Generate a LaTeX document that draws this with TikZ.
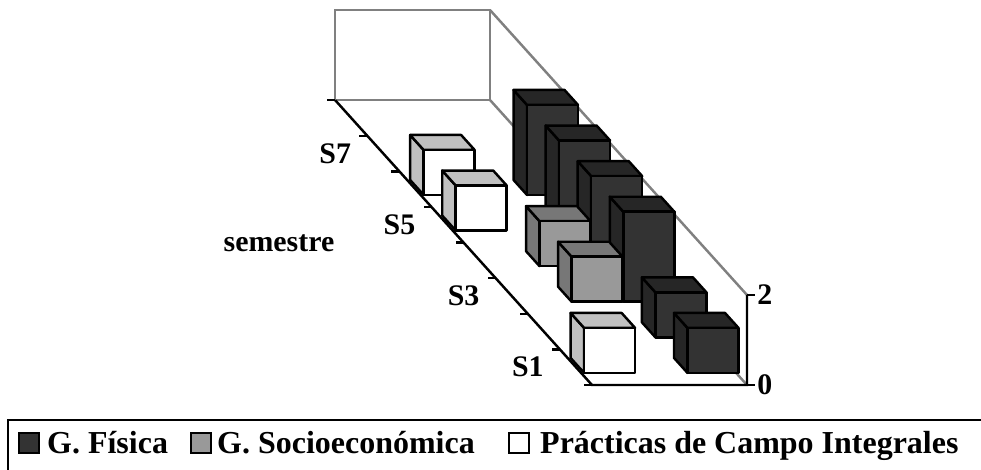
\documentclass[tikz,border=0pt]{standalone}
\usepackage{fontspec}
\setmainfont{Liberation Serif}
\usetikzlibrary{positioning}
\definecolor{fisicaF}{HTML}{333333}
\definecolor{fisicaL}{HTML}{262626}
\definecolor{socioF}{HTML}{999999}
\definecolor{socioL}{HTML}{777777}
\definecolor{practF}{HTML}{FFFFFF}
\definecolor{practL}{HTML}{C0C0C0}
\definecolor{muro}{HTML}{808080}
% #1 serie, #2 semestre, #3 valor, #4 frente, #5 lado
\newcommand\columna[5]{%
    \filldraw[caja, fill=#5] (#1*51.7+3, 0, #2+0.34) -- ++(0, 0, 0.42) -- ++(0, #3*45, 0) -- ++(0, 0, -0.42) -- cycle;
    \filldraw[caja, fill=#5] (#1*51.7+3, #3*45, #2+0.34) -- ++(51, 0, 0) -- ++(0, 0, 0.42) -- ++(-51, 0, 0) -- cycle;
    \filldraw[caja, fill=#4] (#1*51.7+3, 0, #2+0.34) -- ++(51, 0, 0) -- ++(0, #3*45, 0) -- ++(-51, 0, 0) -- cycle;
}
\begin{document}
\begin{tikzpicture}[x=0.02cm, y=0.02cm, z={(-0.642cm,0.712cm)},
    pared/.style={draw=muro, line width=1.4pt},
    eje/.style={draw=black, line width=1.4pt},
    caja/.style={draw=black, line width=1.4pt, line join=round},
    etiq/.style={font=\fontsize{17}{17}\selectfont\bfseries, inner sep=0pt},
    leyenda/.style={font=\fontsize{18.2}{20}\selectfont\bfseries, inner sep=0pt, text height=12.1pt, text depth=0pt},
    muestra/.style={draw=black, line width=1pt, minimum size=0.4cm, inner sep=0pt}]
    \useasboundingbox (-592,-85) rectangle (389,385);
    \clip (-592,-85) rectangle (389,385);
    % paredes
    \draw[pared] (0,0,8) rectangle (155,90,8);
    \draw[pared] (155,90,8) -- (155,90,0);
    \draw[pared] (155,0,8) -- (155,0,0);
    % ejes
    \draw[eje] (0,0,8) -- (0,0,0) -- (155,0,0) -- (155,90,0);
    \draw[eje] (0,0,0) -- ++(-8,0,0) (0,0,1) -- ++(-8,0,0) (0,0,2) -- ++(-8,0,0)
        (0,0,3) -- ++(-8,0,0) (0,0,4) -- ++(-8,0,0) (0,0,5) -- ++(-8,0,0)
        (0,0,6) -- ++(-8,0,0) (0,0,7) -- ++(-8,0,0) (0,0,8) -- ++(-8,0,0);
    \draw[eje] (155,0,0) -- ++(8,0,0) (155,90,0) -- ++(8,0,0);
    % columnas, de atras hacia adelante
    \columna{2}{5}{2}{fisicaF}{fisicaL}
    \columna{0}{5}{1}{practF}{practL}
    \columna{2}{4}{2}{fisicaF}{fisicaL}
    \columna{0}{4}{1}{practF}{practL}
    \columna{2}{3}{2}{fisicaF}{fisicaL}
    \columna{1}{3}{1}{socioF}{socioL}
    \columna{2}{2}{2}{fisicaF}{fisicaL}
    \columna{1}{2}{1}{socioF}{socioL}
    \columna{2}{1}{1}{fisicaF}{fisicaL}
    \columna{2}{0}{1}{fisicaF}{fisicaL}
    \columna{0}{0}{1}{practF}{practL}
    % rotulos
    \node[etiq, anchor=east] (s1) at (-32,0,0.5) {S1};
    \node[etiq, anchor=east] (s3) at (-32,0,2.5) {S3};
    \node[etiq, anchor=east] (s5) at (-32,0,4.5) {S5};
    \node[etiq, anchor=east] (s7) at (-32,0,6.5) {S7};
    \node[etiq] (sem) at (-313,142) {semestre};
    \node[etiq, anchor=west] (v2) at (165,90,0) {2};
    \node[etiq, anchor=west] (v0) at (165,0,0) {0};
    % leyenda
    \draw[line width=1.5pt] (-584,-35) rectangle (420,-120);
    \node[muestra, fill=fisicaF] (mF) at (-563,-58) {};
    \node[leyenda, right=0.14cm of mF] (tF) {G. Física};
    \node[muestra, fill=socioF] (mS) at (-391,-58) {};
    \node[leyenda, right=0.1cm of mS] (tS) {G. Socioeconómica};
    \node[muestra, fill=practF] (mP) at (-73,-58) {};
    \node[leyenda, right=0.2cm of mP] (tP) {Prácticas de Campo Integrales};
\end{tikzpicture}
\end{document}
